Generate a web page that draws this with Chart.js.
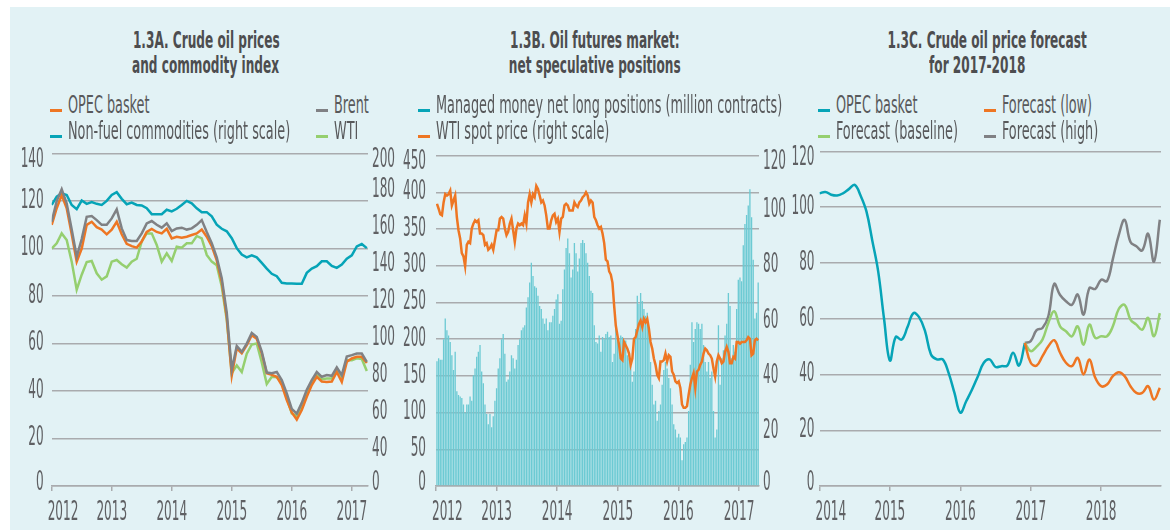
<!DOCTYPE html>
<html>
<head>
<meta charset="UTF-8">
<title>Crude oil prices, futures positions and forecast</title>
<script src="https://cdn.jsdelivr.net/npm/chart.js"></script>
<style>
  body { margin: 0; width: 1170px; height: 530px; background: #fff; position: relative; overflow: hidden;
         font-family: "Liberation Sans Narrow", "DejaVu Sans Condensed", "Liberation Sans", sans-serif; }
  #bg { position: absolute; left: 10px; top: 7px; right: 0; bottom: 0; background: #e2f2f5; }
  .box { position: absolute; top: 130px; height: 400px; }
  .title { position: absolute; top: 28px; width: 320px; text-align: center; font-weight: bold;
           font-size: 23px; line-height: 25px; color: #4d4d4f; }
  .title span { display: inline-block; white-space: nowrap; }
  .leg { position: absolute; height: 26px; }
  .leg .mark { position: absolute; left: 0; top: 16.5px; width: 12px; height: 3px; }
  .leg .txt { position: absolute; left: 18px; top: 0; font-size: 24px; line-height: 26px; color: #58595b;
              white-space: nowrap; transform-origin: left center; }
</style>
</head>
<body>
<div id="bg"></div>

<div class="title" style="left:46px"><span id="tA">1.3A. Crude oil prices</span><br><span>and commodity index</span></div>
<div class="title" style="left:435px"><span>1.3B. Oil futures market:</span><br><span>net speculative positions</span></div>
<div class="title" style="left:817px"><span>1.3C. Crude oil price forecast</span><br><span>for 2017-2018</span></div>

<div class="box" style="left:0; width:410px"><canvas id="chartA"></canvas></div>
<div class="box" style="left:395px; width:400px"><canvas id="chartB"></canvas></div>
<div class="box" style="left:780px; width:390px"><canvas id="chartC"></canvas></div>

<script>
// ---- 1.3A: monthly, Jan 2012 - Apr 2017 ----
const A_START = 2012;
const A_OPEC = [110,117,122.5,117,106,94.5,100,110,111.3,109,108,106,
  108,111.3,106,102,101,100.4,103,107,108.3,107,106.4,108.3,
  104.3,105,104.6,105,105.7,106.4,108,105,101,95,86,71,
  46.5,58,55.9,59.3,63.5,62,55.9,47.5,46.8,46,42.5,36.2,
  31,28,32,37.6,42.5,46,44,43.8,44,48,43.8,52.3,
  53.7,54.4,54.4,51.8];
const A_BRENT = [111.3,120,125,119,108,96.6,104,113.4,113.7,112,110,110,
  112.7,116.5,108.5,103.6,103.2,103.2,106.4,110.6,111.6,110,108.8,110.6,
  107.4,108.5,108.8,108,108.5,110,112,107,102.3,96.3,87.5,73,
  49,59,56.5,60,64.5,62.8,56.6,47.8,47.5,48,44.6,39,
  32.5,30.5,35,40.5,44.6,48,46,46.7,46.4,50,46.7,54.5,
  55.1,55.8,55.8,52.3];
const A_WTI = [100,102.2,106.4,103.6,94.5,82.7,89,94.3,94.8,89.6,86.9,88.3,
  94.5,95.2,93.4,92,94.5,95.7,103,106.4,106.4,101.5,94.5,98,
  94.8,100.8,100.4,102.2,102.2,105.3,104.3,97.3,94.5,93,84,70,
  47.5,50.8,48,55.7,59.6,60,52,43,46,45.8,43.5,37,
  30.6,29.5,33.6,39,44,46.7,45,45.3,45.3,49.4,46,53,
  53,53.8,53.5,48.4];
const A_NONFUEL = [172.2,176.7,178.5,177.6,172.2,169.9,174.6,172.8,173.7,172.8,172.2,174.4,
  177.6,179.1,175.5,172.6,173.5,172.2,171.9,170.4,167.2,167.2,167.2,169.6,
  168.7,170.1,172.2,174.4,173.1,170.4,168.3,168.3,166,161.5,159.3,157.9,
  154.2,148.8,145.3,143.8,144.9,143.8,140.8,137.7,134.9,133.6,130,129.7,
  129.7,129.5,129.5,135.4,137.7,139,141.7,141.7,139.2,138.1,139.9,143.1,
  144.9,149.7,151,148.8];
// right scale of 1.3A: the bottom tick is printed as 0 in the source
const A_RIGHT_MIN = 20;

// ---- 1.3B: roughly every 10 days, Jan 2012 - Apr 2017 ----
const B_START = 2012.016;
const B_STEP = 1 / 36.6;
const B_NET = [170,174,172,172,200,228,212,205,196,178,
  158,183,129,124,122,120,111,100,111,111,
  122,116,151,160,176,183,192,156,140,111,
  98,84,98,80,95,116,133,160,174,200,
  207,180,142,145,156,178,174,160,172,192,
  200,212,216,219,243,257,277,304,286,272,
  270,259,245,241,228,221,228,212,223,223,
  232,241,254,261,221,225,268,295,324,337,
  317,284,295,331,317,292,310,331,335,331,
  317,304,286,266,263,219,196,194,205,183,
  203,200,207,210,203,205,169,180,214,200,
  192,205,203,196,198,178,174,163,142,156,
  214,259,248,263,252,241,232,236,210,169,
  138,111,116,89,102,111,138,158,169,160,
  147,133,111,84,77,66,71,66,35,57,
  60,66,102,165,223,196,214,223,221,214,
  221,192,169,156,169,147,156,102,66,77,
  219,138,174,185,205,221,263,245,174,192,
  183,241,281,284,279,328,357,369,382,404,
  366,308,228,236,277];
const B_WTI = [102.5,100.7,98.7,98.3,103,106,105.5,106,107.3,101.9,
  103.7,105.5,97.7,92.9,89.9,84.6,83.4,79.8,87.6,88.7,
  88.2,93.5,95.3,96.5,95.9,96.5,91.7,91.7,91.1,87.6,
  88.2,85.8,86.4,87.6,85.8,89.3,92.9,92.9,97.1,97.7,
  97.1,93.5,91.1,92.3,95.3,97.1,92.9,88.7,93.5,95.3,
  94.7,95.3,94.7,98.3,95.3,103,106,103,106,104.9,
  109,107.9,105.5,103,103.7,101.9,98.3,93.5,93.5,96.5,
  98.3,98.9,95.9,97.1,92.3,97.1,97.7,101.9,102.5,101.9,
  100.1,100.1,100.1,103,101.9,101.3,103,103.7,104.9,105.5,
  106.7,105.5,102.5,103.7,103,97.7,96.5,94.7,93.5,94.1,
  91.7,88.2,82.2,81.6,78,76.8,73.8,65.5,58.3,54.7,
  51.1,46.3,45.7,52.3,51.1,49.9,48.1,44,46.3,53.5,
  54.1,56.5,58.9,60.1,57.7,60.7,59.5,60.7,57.1,52.3,
  49.9,46.3,44,40.4,39.2,45.2,45.2,45.7,48.1,45.2,
  47.5,46.9,41.6,40.4,38,37.4,38,35.6,29.6,28.4,
  28.4,29,33.2,36.8,39.2,41,35.6,41.6,42.2,44,
  45.2,48.1,49.9,49.3,48.1,47.5,46.3,42.8,39.8,45.2,
  47.5,46.3,44.6,45.2,48.7,50.5,48.7,44.6,44.6,46.9,
  46.3,52.3,52.3,51.7,52.3,52.3,52.3,52.9,54.1,53.5,
  47.5,48.1,52.9,53.5,52.9];

// ---- 1.3C: monthly, OPEC Jan 2014 - Dec 2016, forecasts Dec 2016 - Nov 2018 ----
const C_START = 2014;
const C_OPEC = [105,105.5,104.5,104.2,105,106.5,108,104.2,98.5,88,77,60,
  45,53.5,52.5,57,62,60.5,55.5,47.2,45.4,45.4,40.6,33.4,
  26.3,30.4,34.6,39.4,44.2,45.4,42.7,43,43.2,47.8,43.2,51.3];
const C_FC_FROM = 35; // forecasts start at the last OPEC month
const C_LOW = [51.3,44.2,43.2,46.6,50.1,52.3,47.8,44.2,43,46,40,45.4,
  38.8,35.8,36.4,39.4,40.8,39.4,35.8,33.4,33.4,35.8,31,35.2];
const C_BASE = [51.3,48.4,50,52.5,58.5,62.7,57.3,55.5,53.7,57.3,50.7,57.9,
  53.1,53.7,53.7,57.3,63.5,65,59.7,57.9,56.1,60.3,53.7,62];
const C_HIGH = [51.3,52,55.9,56.7,60.9,72.5,68.5,66.3,65,68.7,61.5,71,
  70.7,74,73.5,81.5,90,95.5,87.5,86,84.5,90.5,80.5,95.5];

const ORANGE = '#ee7623', GREY = '#808184', TEAL = '#06a4b7', GREEN = '#95cf6f', BARS = '#6ccad3';
const GRID = '#a9abae';
const FONT = '"Liberation Sans Narrow", "DejaVu Sans Condensed", "Liberation Sans", sans-serif';
const TICK_SIZE = 26;

// the source uses a very narrow face; squeeze tick text so "140" is ~23px wide
const probe = document.createElement('canvas').getContext('2d');
probe.font = TICK_SIZE + 'px ' + FONT;
const TICK_SQUEEZE = 23 / probe.measureText('140').width;

const baseDrawLabels = Chart.LinearScale.prototype.drawLabels;
Chart.LinearScale.prototype.drawLabels = function (area) {
  const scale = this, ctx = this.ctx, fill = ctx.fillText;
  const first = scale.ticks.length ? String(scale.ticks[0].label) : null;
  const last = scale.ticks.length ? String(scale.ticks[scale.ticks.length - 1].label) : null;
  ctx.fillText = function (t, x, y) {
    if (scale.isHorizontal() && String(t) === first) { this.textAlign = 'left'; x -= 4; }
    if (!scale.isHorizontal() && String(t) === last) { y += 7; }
    if (!scale.isHorizontal() && String(t) === first) { y -= 3; }
    this.save();
    this.translate(x, y);
    this.scale(TICK_SQUEEZE, 1);
    fill.call(this, t, 0, 0);
    this.restore();
  };
  baseDrawLabels.call(this, area);
  ctx.fillText = fill;
};

Chart.defaults.font.family = FONT;
Chart.defaults.font.size = TICK_SIZE;
Chart.defaults.color = '#5f6063';
Chart.defaults.animation = false;
Chart.defaults.maintainAspectRatio = false;
Chart.defaults.plugins.legend.display = false;
Chart.defaults.plugins.tooltip.enabled = false;
Chart.defaults.elements.point.radius = 0;

function monthly(start, values, offset) {
  return values.map((v, i) => ({ x: start + (i + (offset || 0)) / 12, y: v }));
}

function yearAxis(min, max) {
  return {
    type: 'linear', min: min, max: max, offset: false,
    afterFit: s => { s.height = 44; },
    grid: { drawOnChartArea: false, drawTicks: true, tickLength: 5, offset: false, color: GRID, lineWidth: 1.5 },
    border: { display: true, color: GRID, width: 1.5 },
    ticks: { stepSize: 1, includeBounds: false, autoSkip: false, maxRotation: 0, padding: 7,
             callback: v => String(Math.round(v)) }
  };
}

function valueAxis(pos, min, max, step, width, pad, showGrid) {
  return {
    position: pos, min: min, max: max,
    afterFit: s => { s.width = width; },
    grid: { display: showGrid, drawTicks: false, color: GRID, lineWidth: 1.5 },
    border: { display: false },
    ticks: { stepSize: step, padding: pad }
  };
}

function line(label, data, color, axis, order, tension) {
  return { type: 'line', label: label, data: data, borderColor: color, backgroundColor: color,
           borderWidth: 2.5, yAxisID: axis, order: order, tension: tension || 0 };
}

const rightA = valueAxis('right', A_RIGHT_MIN, 200, 20, 42, 4, false);
rightA.ticks.callback = v => (v === A_RIGHT_MIN ? '0' : String(v));

const chartA = new Chart(document.getElementById('chartA'), {
  type: 'line',
  data: { datasets: [
    line('OPEC basket', monthly(A_START, A_OPEC), ORANGE, 'y', 1),
    line('Brent', monthly(A_START, A_BRENT), GREY, 'y', 0),
    line('Non-fuel commodities (right scale)', monthly(A_START, A_NONFUEL), TEAL, 'y1', 3),
    line('WTI', monthly(A_START, A_WTI), GREEN, 'y', 2)
  ] },
  options: {
    layout: { padding: { top: 21.5 } },
    scales: {
      x: yearAxis(2012, 2017.27),
      y: valueAxis('left', 0, 140, 20, 51.7, 8, true),
      y1: rightA
    }
  }
});

const chartB = new Chart(document.getElementById('chartB'), {
  type: 'bar',
  data: { datasets: [
    { type: 'bar', label: 'Managed money net long positions (million contracts)',
      data: B_NET.map((v, i) => ({ x: B_START + i * B_STEP, y: v })),
      backgroundColor: BARS, borderColor: TEAL, borderWidth: 0, barPercentage: 1, categoryPercentage: 0.8,
      yAxisID: 'y', order: 1 },
    line('WTI spot price (right scale)', B_WTI.map((v, i) => ({ x: B_START + i * B_STEP, y: v })),
         ORANGE, 'y1', 0)
  ] },
  options: {
    layout: { padding: { top: 21.5 } },
    scales: {
      x: yearAxis(2012, 2017.33),
      y: valueAxis('left', 0, 450, 50, 41, 10, true),
      y1: valueAxis('right', 0, 120, 20, 36, 4, false)
    }
  }
});

const chartC = new Chart(document.getElementById('chartC'), {
  type: 'line',
  data: { datasets: [
    line('OPEC basket', monthly(C_START, C_OPEC), TEAL, 'y', 3, 0.4),
    line('Forecast (low)', monthly(C_START, C_LOW, C_FC_FROM), ORANGE, 'y', 0, 0.4),
    line('Forecast (baseline)', monthly(C_START, C_BASE, C_FC_FROM), GREEN, 'y', 1, 0.4),
    line('Forecast (high)', monthly(C_START, C_HIGH, C_FC_FROM), GREY, 'y', 2, 0.4)
  ] },
  options: {
    layout: { padding: { top: 21.5, right: 9 } },
    scales: {
      x: yearAxis(2014, 2018.85),
      y: valueAxis('left', 0, 120, 20, 39.5, 5, true)
    }
  }
});

// HTML legends, built from the chart datasets: [dataset index, left, row]
function legend(chart, items) {
  items.forEach(([idx, left, row]) => {
    const ds = chart.data.datasets[idx];
    const el = document.createElement('div');
    el.className = 'leg';
    el.style.left = left + 'px';
    el.style.top = (92 + row * 26) + 'px';
    el.innerHTML = '<span class="mark" style="background:' + ds.borderColor + '"></span><span class="txt"></span>';
    el.querySelector('.txt').textContent = ds.label;
    document.body.appendChild(el);
  });
}
legend(chartA, [[0, 50, 0], [1, 316, 0], [2, 50, 1], [3, 316, 1]]);
legend(chartB, [[0, 418, 0], [1, 418, 1]]);
legend(chartC, [[0, 818, 0], [1, 984, 0], [2, 818, 1], [3, 984, 1]]);

// narrow the HTML text the same way: legend sample 222px, title sample 147px wide
const legSample = [...document.querySelectorAll('.leg .txt')].find(e => e.textContent.startsWith('Non-fuel'));
const legK = 222 / legSample.offsetWidth;
document.querySelectorAll('.leg .txt').forEach(e => { e.style.transform = 'scaleX(' + legK + ')'; });
const titleK = 147 / document.getElementById('tA').offsetWidth;
document.querySelectorAll('.title span').forEach(e => { e.style.transform = 'scaleX(' + titleK + ')'; });
</script>
</body>
</html>
